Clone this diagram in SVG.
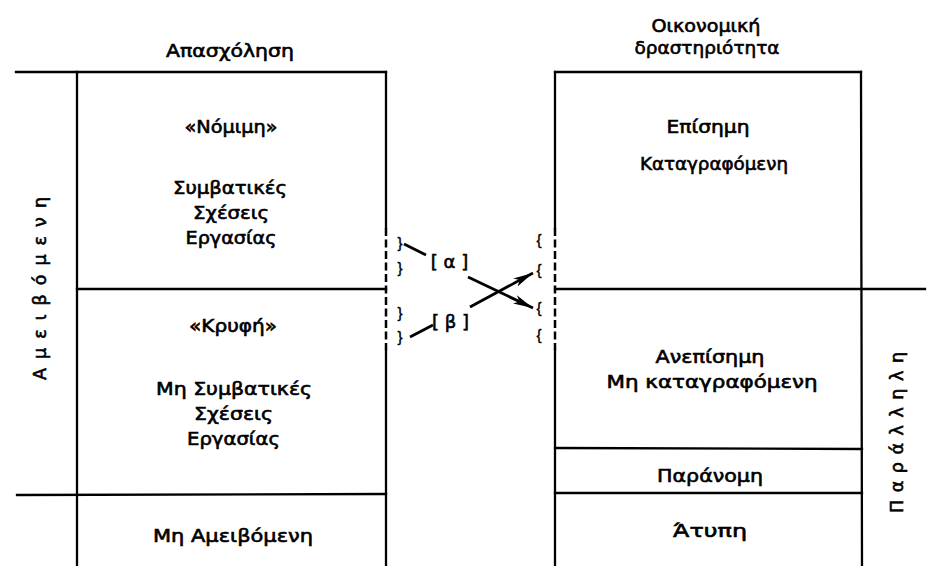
<svg xmlns="http://www.w3.org/2000/svg" width="931" height="566" viewBox="0 0 931 566">
<style>
.ln{stroke:#000;stroke-width:2.3;fill:none;stroke-linecap:square}
.dash{stroke:#000;stroke-width:2.5;fill:none;stroke-dasharray:8 3.5}
.t{font-family:"DejaVu Sans","Liberation Sans",sans-serif;font-size:17.5px;fill:#000;text-anchor:middle;stroke:#000;stroke-width:0.6}
.br{font-family:"Liberation Sans",sans-serif;font-size:15px;fill:#000;stroke:#000;stroke-width:0.4;text-anchor:middle}
.lbl{font-family:"DejaVu Sans",sans-serif;font-size:18px;fill:#000;text-anchor:middle;stroke:#000;stroke-width:0.6}
.con{stroke:#000;stroke-width:2.8;fill:none}
</style>
<defs>
<marker id="ah" markerUnits="userSpaceOnUse" markerWidth="22" markerHeight="12" refX="20" refY="6" orient="auto">
<path d="M0,1.5 L20,6 L0,10.5 L5,6 z" fill="#000"/>
</marker>
</defs>
<rect width="931" height="566" fill="#fff"/>

<g id="frame-left">
<line class="ln" x1="16" y1="72" x2="386" y2="72"/>
<line class="ln" x1="77" y1="72" x2="77" y2="566"/>
<line class="ln" x1="386" y1="72" x2="386" y2="228"/>
<line class="dash" x1="386" y1="228" x2="386" y2="350"/>
<line class="ln" x1="386" y1="350" x2="386" y2="566"/>
<line class="ln" x1="77" y1="289" x2="386" y2="289"/>
<line class="ln" x1="17" y1="495" x2="386" y2="494"/>
</g>

<g id="frame-right">
<line class="ln" x1="555" y1="72" x2="861" y2="72"/>
<line class="ln" x1="555" y1="72" x2="555" y2="228"/>
<line class="dash" x1="555" y1="228" x2="555" y2="350"/>
<line class="ln" x1="555" y1="350" x2="555" y2="566"/>
<line class="ln" x1="861" y1="72" x2="862" y2="566"/>
<line class="ln" x1="555" y1="289" x2="925" y2="289"/>
<line class="ln" x1="555" y1="448" x2="862" y2="449"/>
<line class="ln" x1="555" y1="493" x2="862" y2="493"/>
</g>

<g id="header-left"><text class="t" x="230" y="57" textLength="128" lengthAdjust="spacingAndGlyphs">Απασχόληση</text></g>
<g id="header-right">
<text class="t" x="706" y="32" textLength="109" lengthAdjust="spacingAndGlyphs">Οικονομική</text>
<text class="t" x="707" y="54" textLength="145" lengthAdjust="spacingAndGlyphs">δραστηριότητα</text>
</g>

<g id="node-nomimi">
<text class="t" x="231" y="133" textLength="93" lengthAdjust="spacingAndGlyphs">«Νόμιμη»</text>
<text class="t" x="230" y="194" textLength="114" lengthAdjust="spacingAndGlyphs">Συμβατικές</text>
<text class="t" x="231" y="219" textLength="76" lengthAdjust="spacingAndGlyphs">Σχέσεις</text>
<text class="t" x="231" y="244" textLength="91" lengthAdjust="spacingAndGlyphs">Εργασίας</text>
</g>

<g id="node-kryfi">
<text class="t" x="233" y="332" textLength="88" lengthAdjust="spacingAndGlyphs">«Κρυφή»</text>
<text class="t" x="234" y="395" textLength="156" lengthAdjust="spacingAndGlyphs">Μη Συμβατικές</text>
<text class="t" x="233.5" y="420" textLength="79" lengthAdjust="spacingAndGlyphs">Σχέσεις</text>
<text class="t" x="233.5" y="445" textLength="93" lengthAdjust="spacingAndGlyphs">Εργασίας</text>
</g>

<g id="node-mi-ameivomeni">
<text class="t" x="233" y="542" textLength="160" lengthAdjust="spacingAndGlyphs">Μη Αμειβόμενη</text>
</g>

<g id="node-episimi">
<text class="t" x="708" y="133" textLength="83" lengthAdjust="spacingAndGlyphs">Επίσημη</text>
<text class="t" x="714" y="170" textLength="148" lengthAdjust="spacingAndGlyphs">Καταγραφόμενη</text>
</g>

<g id="node-anepisimi">
<text class="t" x="710" y="363" textLength="109" lengthAdjust="spacingAndGlyphs">Ανεπίσημη</text>
<text class="t" x="712" y="388" textLength="211" lengthAdjust="spacingAndGlyphs">Μη καταγραφόμενη</text>
</g>

<g id="node-paranomi">
<text class="t" x="710" y="482" textLength="106" lengthAdjust="spacingAndGlyphs">Παράνομη</text>
</g>

<g id="node-atypi">
<text class="t" x="710" y="537" textLength="74" lengthAdjust="spacingAndGlyphs">Άτυπη</text>
</g>

<g id="side-left">
<text class="t" transform="translate(46,288.5) rotate(-90)" x="0" y="0" textLength="183" lengthAdjust="spacing">Αμειβόμενη</text>
</g>
<g id="side-right">
<text class="t" transform="translate(903,432.5) rotate(-90)" x="0" y="0" textLength="161" lengthAdjust="spacing">Παράλληλη</text>
</g>

<g id="braces">
<text class="br" x="400" y="248">}</text>
<text class="br" x="400" y="273">}</text>
<text class="br" x="400" y="318">}</text>
<text class="br" x="400" y="342">}</text>
<text class="br" x="539" y="245">{</text>
<text class="br" x="539" y="275">{</text>
<text class="br" x="539" y="313">{</text>
<text class="br" x="539" y="340">{</text>
</g>

<g id="label-a"><text class="lbl" x="449.5" y="268">[ α ]</text></g>
<g id="label-b"><text class="lbl" x="450.5" y="328">[ β ]</text></g>

<g id="connectors">
<line class="con" x1="404" y1="244" x2="426" y2="255"/>
<line class="con" x1="410" y1="337" x2="433" y2="325"/>
<line class="con" x1="468" y1="277" x2="533" y2="308" marker-end="url(#ah)"/>
<line class="con" x1="470" y1="307" x2="533" y2="273" marker-end="url(#ah)"/>
</g>
</svg>
